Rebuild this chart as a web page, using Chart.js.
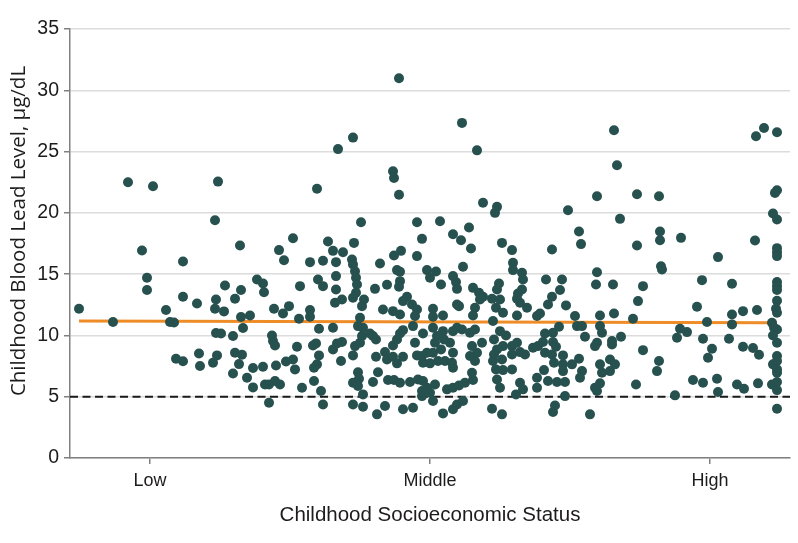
<!DOCTYPE html>
<html>
<head>
<meta charset="utf-8">
<script src="https://cdn.jsdelivr.net/npm/chart.js@4.4.1/dist/chart.umd.min.js"></script>
<style>
  html, body { margin: 0; padding: 0; background: #fff; }
  #wrap { width: 798px; height: 543px; position: relative; }
</style>
</head>
<body>
<div id="wrap"><canvas id="leadChart"></canvas></div>
<script>
// SES rank on the horizontal axis (0 = lowest, 720 = highest), lead level in µg/dL
const sesRank = [
  9, 43, 58, 83, 72, 77, 77, 96, 100, 104, 106,
  113, 113, 113, 127, 129, 130, 148, 145, 155, 146, 145, 154, 146, 151, 147, 143,
  170, 165, 171, 171, 180, 173, 163, 165, 172, 169, 163, 177, 183, 183, 193, 195,
  199, 205, 210, 199, 187, 193, 194, 204, 202, 203, 205, 206, 209, 214, 223, 213,
  219, 216, 223, 225, 227, 230, 229, 232,
  329, 268, 283, 247, 323, 324, 329, 291, 347, 352, 258, 263, 273, 284, 240, 253,
  266, 282, 283, 285, 286, 287, 286, 283, 310, 324, 331, 327, 330, 330, 329, 248,
  253, 266, 266, 265, 272, 294, 292, 305, 317, 337, 333, 342, 347, 347, 240, 240,
  249, 263, 290, 288, 293, 313, 323, 330, 345, 343, 246, 243, 249, 247, 244, 263,
  272, 267, 271, 283, 285, 290, 292, 300, 306, 303, 306, 308, 315, 317, 323, 327,
  333, 323, 327, 330, 333, 345, 347, 352, 288, 289, 283, 288, 293, 303, 318, 324,
  330, 340, 348, 352, 251, 244, 253, 283, 293, 307, 315, 333, 343,
  392, 407, 413, 427, 425, 370, 383, 391, 399, 401, 432, 442, 443, 443, 452, 453,
  452, 448, 447, 450, 457, 357, 366, 360, 371, 383, 386, 387, 393, 387, 389, 403,
  409, 413, 410, 429, 427, 422, 430, 426, 433, 405, 403, 363, 373, 363, 447, 467,
  470, 353, 363, 367, 365, 373, 374, 383, 387, 392, 380, 383, 371, 363, 357, 368,
  375, 383, 382, 353, 360, 353, 357, 365, 352, 360, 377, 383, 389, 395, 403, 402,
  405, 400, 407, 402, 412, 400, 405, 423, 424, 430, 436, 433, 427, 424, 423, 432,
  433, 426, 427, 430, 442, 447, 442, 450, 455, 442, 450, 453, 446, 467, 467, 468,
  463, 363, 373, 383, 387, 393, 422, 432,
  544, 547, 527, 567, 589, 498, 550, 509, 511, 482, 567, 590, 590, 591, 592, 527,
  476, 492, 490, 482, 478, 496, 526, 543, 573, 568, 505, 530, 544, 563, 489, 507,
  512, 530, 532, 515, 551, 542, 542, 527, 525, 475, 483, 473, 483, 486, 475, 482,
  493, 509, 540, 545, 573, 589, 587, 484, 493, 502, 493, 474, 512, 530, 532, 540,
  510, 530, 478, 487, 495, 525, 527, 566, 495, 485, 483, 520,
  686, 694, 707, 707, 705, 703, 707, 611, 685, 648, 707, 707, 707, 632, 662, 707,
  707, 707, 707, 706, 707, 627, 662, 673, 687, 637, 662, 702, 704, 707, 703, 707,
  610, 607, 617, 633, 659, 642, 638, 673, 683, 689, 707, 707, 703, 707, 707, 623,
  633, 647, 648, 667, 674, 688, 702, 707, 707, 605, 707
];

const leadLevel = [
  12.17, 11.09, 22.5, 22.17, 16.93, 14.7, 13.7, 12.07, 11.1, 11.05, 8.1,
  16.03, 13.15, 7.9, 12.6, 8.53, 7.5, 22.55, 19.4, 14.08, 12.93, 12.17, 11.96, 10.2, 10.16, 8.37, 7.77,
  17.34, 12.99, 13.7, 11.5, 11.63, 10.6, 9.95, 8.59, 8.42, 7.66, 6.9, 6.55, 7.34, 5.76, 7.45, 6.0,
  6.0, 6.28, 6.0, 4.51, 14.57, 14.24, 13.53, 12.17, 10.0, 9.54, 9.18, 7.55, 16.96, 16.14, 17.93, 11.79,
  12.39, 7.88, 8.04, 7.23, 9.08, 14.02, 11.36, 5.73,
  30.98, 25.2, 26.14, 21.96, 23.4, 22.85, 21.47, 19.24, 19.24, 17.88, 17.66, 16.9, 16.79, 17.55, 15.98, 16.09,
  15.98, 16.2, 15.79, 15.24, 14.7, 14.16, 13.48, 13.07, 15.87, 16.52, 16.9, 15.33, 15.2, 14.43, 13.97, 14.57,
  14.02, 14.84, 13.75, 12.66, 12.93, 12.93, 12.39, 13.8, 14.13, 13.15, 12.8, 12.53, 12.12, 16.47, 12.07, 11.52,
  10.54, 10.63, 11.44, 10.76, 10.63, 12.12, 11.98, 11.71, 11.58, 10.76, 9.35, 9.18, 8.37, 7.64, 7.36, 8.86,
  9.46, 9.35, 7.91, 8.37, 9.13, 9.4, 9.95, 10.16, 9.67, 9.95, 8.26, 7.0, 8.64, 8.04, 8.26, 7.72,
  8.26, 9.18, 9.67, 10.16, 10.43, 9.4, 8.37, 8.32, 7.0, 6.47, 6.14, 5.87, 5.19, 6.2, 6.36, 6.36,
  6.14, 6.2, 6.41, 5.05, 5.46, 6.28, 4.37, 4.37, 4.18, 3.56, 4.24, 3.97, 4.1,
  27.34, 25.1, 20.82, 20.49, 20.0, 19.32, 18.26, 17.77, 18.8, 17.09, 17.55, 16.96, 15.92, 15.33, 15.11, 14.57,
  13.75, 13.42, 12.99, 12.66, 12.26, 15.33, 15.22, 14.7, 14.16, 14.84, 14.35, 13.8, 15.6, 12.53, 12.39, 13.88,
  13.48, 13.15, 12.93, 14.24, 13.75, 12.99, 12.93, 12.26, 11.85, 12.26, 11.63, 12.17, 11.63, 11.52, 11.63, 11.58,
  11.79, 10.16, 10.63, 9.95, 9.4, 10.35, 9.67, 10.35, 10.63, 10.49, 9.4, 8.59, 8.86, 8.59, 8.59, 7.91,
  7.91, 7.36, 7.77, 7.77, 7.72, 6.28, 5.73, 6.0, 5.46, 5.33, 5.6, 5.73, 5.92, 6.14, 6.36, 6.96,
  7.91, 8.32, 8.59, 9.13, 9.4, 10.22, 10.49, 11.17, 9.67, 10.35, 10.0, 9.13, 8.86, 8.45, 7.91, 8.04,
  7.17, 7.23, 6.41, 5.73, 9.13, 9.4, 8.45, 8.64, 8.45, 7.23, 6.14, 5.6, 5.19, 5.73, 6.55, 9.13,
  9.0, 4.65, 3.64, 3.97, 4.37, 4.65, 4.02, 3.56,
  26.74, 23.89, 21.36, 21.52, 21.36, 20.22, 19.51, 18.48, 17.45, 17.01, 17.34, 18.48, 17.77, 15.65, 15.38, 15.16,
  14.57, 14.57, 13.7, 13.15, 12.53, 12.45, 14.16, 14.16, 14.02, 12.8, 11.58, 11.63, 11.79, 11.36, 10.71, 10.76,
  10.76, 10.76, 10.22, 9.89, 9.89, 9.54, 9.27, 9.4, 9.13, 10.16, 10.22, 9.46, 9.46, 9.08, 8.59, 8.45,
  8.37, 8.1, 8.04, 7.64, 8.8, 7.91, 7.09, 7.77, 7.64, 7.64, 7.09, 7.17, 7.09, 7.64, 6.96, 7.09,
  6.55, 6.09, 6.28, 6.2, 6.2, 5.73, 5.46, 6.0, 5.05, 4.29, 3.75, 3.56,
  26.25, 26.93, 26.58, 21.85, 21.63, 19.95, 19.46, 17.96, 17.74, 16.39, 17.12, 16.79, 16.47, 14.51, 14.21, 14.35,
  14.02, 13.7, 12.83, 12.17, 11.85, 12.34, 11.71, 11.98, 12.07, 11.09, 10.9, 11.03, 10.63, 10.49, 10.0, 9.4,
  10.54, 9.81, 10.27, 9.73, 9.73, 8.91, 8.18, 9.08, 8.97, 8.42, 8.32, 7.91, 7.64, 7.23, 6.96, 6.36,
  6.14, 6.47, 5.38, 6.0, 5.65, 6.09, 6.0, 6.2, 5.54, 5.11, 4.02
];

// fitted line and the 5 µg/dL reference
const trendX = [9, 707];
const trendY = [11.17, 11.03];
const refX = [0, 720];
const refY = [5, 5];

const xTickValues = [80, 360, 640];
const xTickLabels = ['Low', 'Middle', 'High'];

const POINT_COLOR = '#27514f';
const TREND_COLOR = '#ee8d27';
const AXIS_COLOR = '#808080';
const TEXT_COLOR = '#1e1b1c';

const puntos = sesRank.map((x, i) => ({ x, y: leadLevel[i] }));
const tendencia = trendX.map((x, i) => ({ x, y: trendY[i] }));
const referencia = refX.map((x, i) => ({ x, y: refY[i] }));

// y-axis title drawn by hand so it can sit where the original has it
const yTitlePlugin = {
    id: 'yTitle',
    afterDraw(chart) {
        const { ctx } = chart;
        ctx.save();
        ctx.translate(19, 231);
        ctx.rotate(-Math.PI / 2);
        ctx.font = '20.5px "Open Sans"';
        ctx.fillStyle = TEXT_COLOR;
        ctx.textAlign = 'center';
        ctx.textBaseline = 'middle';
        ctx.fillText('Childhood Blood Lead Level, µg/dL', 0, 0);
        ctx.restore();
    }
};

new Chart(document.getElementById('leadChart'), {
    type: 'scatter',
    data: {
        datasets: [
            {
                label: 'Participants',
                data: puntos,
                pointRadius: 5,
                pointHoverRadius: 5,
                pointBackgroundColor: POINT_COLOR,
                pointBorderWidth: 0,
                order: 0
            },
            {
                type: 'line',
                label: 'Fit',
                data: tendencia,
                borderColor: TREND_COLOR,
                borderWidth: 3,
                pointRadius: 0,
                fill: false,
                order: 1
            },
            {
                type: 'line',
                label: 'Reference',
                data: referencia,
                borderColor: '#1a1a1a',
                borderWidth: 2,
                borderDash: [8, 4.5],
                pointRadius: 0,
                fill: false,
                order: 2
            }
        ]
    },
    options: {
        responsive: true,
        maintainAspectRatio: false,
        animation: false,
        layout: { padding: { top: 29, right: 8, left: 0, bottom: 0 } },
        plugins: {
            legend: { display: false },
            tooltip: { enabled: false }
        },
        scales: {
            x: {
                type: 'linear',
                min: 0,
                max: 720,
                afterBuildTicks: scale => { scale.ticks = xTickValues.map(v => ({ value: v })); },
                afterFit: scale => { scale.height = 85; },
                ticks: {
                    callback: (v, i) => xTickLabels[i],
                    font: { family: '"Liberation Sans"', size: 18 },
                    color: TEXT_COLOR,
                    padding: 6,
                    maxRotation: 0
                },
                grid: { drawOnChartArea: false, drawTicks: true, tickLength: 6, tickColor: AXIS_COLOR, lineWidth: 1.5 },
                border: { color: AXIS_COLOR, width: 1.5 },
                title: {
                    display: true,
                    text: 'Childhood Socioeconomic Status',
                    font: { family: '"Liberation Sans"', size: 20.5 },
                    color: TEXT_COLOR,
                    padding: { top: 0, bottom: 15 }
                }
            },
            y: {
                min: 0,
                max: 35,
                afterFit: scale => { scale.width = 70; },
                ticks: {
                    stepSize: 5,
                    font: { family: '"Liberation Sans"', size: 19.5 },
                    color: TEXT_COLOR,
                    padding: 5
                },
                grid: { color: '#dcdcdc', lineWidth: 1.5, tickLength: 6, tickColor: AXIS_COLOR },
                border: { color: AXIS_COLOR, width: 1.5 }
            }
        }
    },
    plugins: [yTitlePlugin]
});
</script>
</body>
</html>
